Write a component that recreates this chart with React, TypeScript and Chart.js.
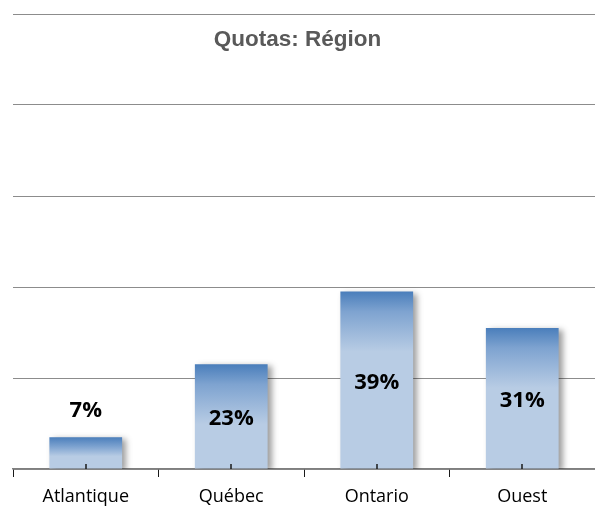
import React, { useEffect, useRef } from "react";
import { Chart, registerables } from "chart.js";

Chart.register(...registerables);

const categories = ["Atlantique", "Québec", "Ontario", "Ouest"];
const quotaValues = [7, 23, 39, 31];
const valueLabels = ["7%", "23%", "39%", "31%"];
const titleText = "Quotas: Région";
const yMax = 100;
const yStep = 20;

const barGradient = (ctx: any) => {
  const chart = ctx.chart;
  const area = chart.chartArea;
  if (!area || ctx.type !== "data") return "#b8cce4";
  const y = chart.scales.y;
  const top = y.getPixelForValue(quotaValues[ctx.dataIndex]);
  const bottom = y.getPixelForValue(0);
  const h = Math.max(1, bottom - top);
  const g = chart.ctx.createLinearGradient(0, top, 0, bottom);
  g.addColorStop(0, "#4a7ebb");
  g.addColorStop(Math.min(0.3, 20 / h), "#7ea3d0");
  g.addColorStop(Math.min(0.6, 60 / h), "#b8cce4");
  g.addColorStop(1, "#b8cce4");
  return g;
};

const shadowPlugin = {
  id: "barShadow",
  beforeDatasetsDraw(chart: any) {
    const c = chart.ctx;
    c.save();
    c.shadowColor = "rgba(0,0,0,0.38)";
    c.shadowBlur = 6;
    c.shadowOffsetX = 4;
    c.shadowOffsetY = 2;
  },
  afterDatasetsDraw(chart: any) {
    chart.ctx.restore();
  },
};

const overlayPlugin = {
  id: "overlay",
  afterDraw(chart: any) {
    const c = chart.ctx;
    const x = chart.scales.x;
    const y = chart.scales.y;
    const base = y.getPixelForValue(0);
    c.save();
    c.strokeStyle = "#1a1a1a";
    c.lineWidth = 1.5;
    categories.forEach((_, i) => {
      const px = Math.round(x.getPixelForValue(i));
      c.beginPath();
      c.moveTo(px, base);
      c.lineTo(px, base - 5);
      c.stroke();
    });
    c.fillStyle = "#000000";
    c.font = "bold 22px 'Open Sans', 'Noto Sans', sans-serif";
    c.textAlign = "center";
    c.textBaseline = "middle";
    const meta = chart.getDatasetMeta(0);
    meta.data.forEach((bar: any, i: number) => {
      const h = base - bar.y;
      const ly = h < 45 ? bar.y - 26 : (bar.y + base) / 2 + 2;
      c.fillText(valueLabels[i], bar.x, ly);
    });
    c.fillStyle = "#595959";
    c.font = "bold 22.5px 'Liberation Sans', Arial, sans-serif";
    c.fillText(titleText, chart.width / 2, 40);
    c.restore();
  },
};

export default function App() {
  const ref = useRef<HTMLCanvasElement | null>(null);
  useEffect(() => {
    document.body.style.margin = "0";
    const chart = new Chart(ref.current as HTMLCanvasElement, {
      type: "bar",
      data: {
        labels: categories,
        datasets: [
          {
            data: quotaValues,
            backgroundColor: barGradient,
            borderWidth: 0,
            barPercentage: 0.5,
            categoryPercentage: 1,
          },
        ],
      },
      options: {
        animation: false,
        responsive: false,
        layout: { padding: { left: 13, right: 0, top: 14, bottom: -10 } },
        plugins: { legend: { display: false }, tooltip: { enabled: false } },
        scales: {
          y: {
            min: 0,
            max: yMax,
            ticks: { display: false, stepSize: yStep },
            border: { display: false },
            grid: { color: "#8c8c8c", lineWidth: 1, drawTicks: false },
          },
          x: {
            offset: true,
            border: { display: true, color: "#7f7f7f", width: 1.5 },
            grid: {
              offset: true,
              drawOnChartArea: false,
              drawTicks: true,
              tickLength: 8,
              color: "#1a1a1a",
            },
            ticks: {
              color: "#000000",
              padding: 11,
              font: { family: "'Open Sans', 'Noto Sans', sans-serif", size: 18, lineHeight: 1 },
            },
          },
        },
      },
      plugins: [shadowPlugin, overlayPlugin],
    });
    return () => chart.destroy();
  }, []);
  return <canvas ref={ref} width={595} height={507} style={{ display: "block" }} />;
}
